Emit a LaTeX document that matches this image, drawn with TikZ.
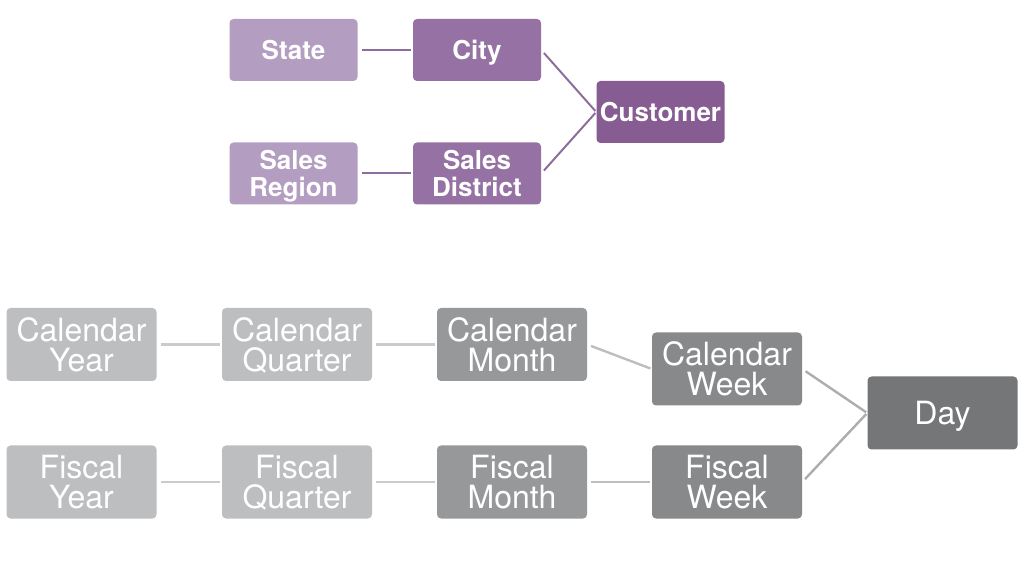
\documentclass[tikz,border=0pt]{standalone}
\usepackage{fontspec}
\setmainfont{TeX Gyre Heros}
\usepackage{xcolor}
\usepackage{tikz}
\usetikzlibrary{positioning}
\definecolor{lilac}{HTML}{B39DC1}
\definecolor{plum}{HTML}{9572A3}
\definecolor{grape}{HTML}{865C93}
\definecolor{plumline}{HTML}{8C6D9C}
\definecolor{gyear}{HTML}{BDBEC0}
\definecolor{gmonth}{HTML}{97989A}
\definecolor{gweek}{HTML}{88898B}
\definecolor{gday}{HTML}{757678}
\begin{document}
\begin{tikzpicture}[x=0.75pt, y=-0.75pt,
  geo/.style={rounded corners=3pt, inner sep=0pt, minimum width=96pt, minimum height=46.5pt, align=center, text depth=0pt, text=white, font=\fontsize{19.5}{20}\selectfont\bfseries},
  tim/.style={rounded corners=3pt, inner sep=0pt, minimum width=112.5pt, minimum height=54.75pt, align=center, text depth=0pt, text=white, font=\fontsize{24}{22.5}\selectfont},
  link/.style={line width=1.5pt, shorten <=3pt, shorten >=1pt}]
\useasboundingbox (0,0) rectangle (1024,580);
% customer geography
\node[geo, fill=lilac] (state) at (293.5,50) {State};
\node[geo, fill=plum] (city) at (477,50) {City};
\node[geo, fill=lilac] (region) at (293.5,173.5) {Sales\\Region};
\node[geo, fill=plum] (district) at (477,173.5) {Sales\\District};
\node[geo, fill=grape] (cust) at (660.5,112) {Customer};
\draw[link, plumline] (state) -- (city);
\draw[link, plumline] (region) -- (district);
\draw[link, plumline] (city.east) -- (cust.west);
\draw[link, plumline] (district.east) -- (cust.west);
% time
\foreach \i/\x/\col in {Year/81.5/gyear, Quarter/297/gyear, Month/512/gmonth} {
  \node[tim, fill=\col] (cal\i) at (\x,344.5) {Calendar\\\i};
  \node[tim, fill=\col] (fis\i) at (\x,482) {Fiscal\\\i};
}
\node[tim, fill=gweek] (calWeek) at (727,369) {Calendar\\Week};
\node[tim, fill=gweek] (fisWeek) at (727,482) {Fiscal\\Week};
\node[tim, fill=gday] (day) at (942.5,413) {Day};
\foreach \p in {cal, fis} {
  \draw[link, line width=1.8pt, gyear!80] (\p Year) -- (\p Quarter);
  \draw[link, line width=1.8pt, gyear!80] (\p Quarter) -- (\p Month);
  \draw[link, line width=1.8pt, gyear] (\p Month.east) -- (\p Week.west);
  \draw[link, line width=1.8pt, gmonth!80] (\p Week.east) -- (day.west);
}
\end{tikzpicture}
\end{document}
